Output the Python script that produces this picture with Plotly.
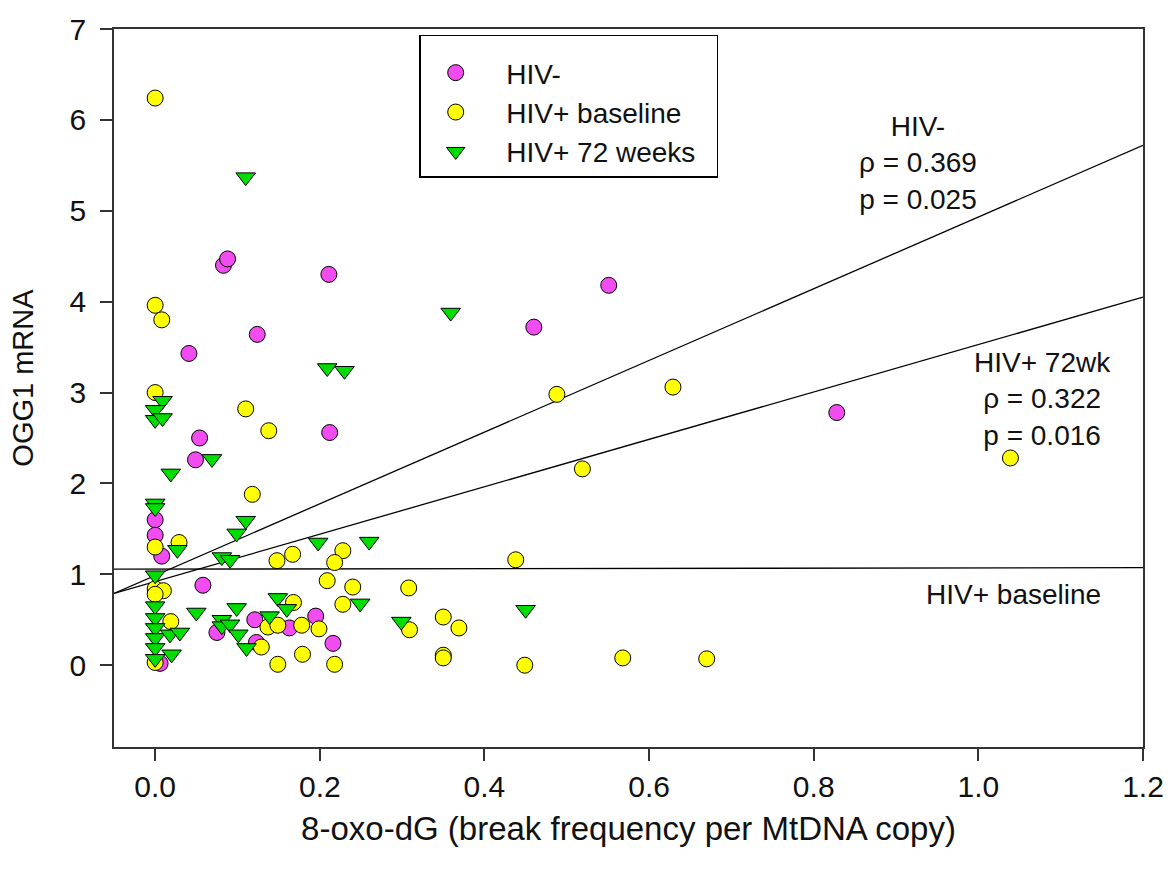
import plotly.graph_objects as go

# ---- data -----------------------------------------------------------------
hiv_neg_x = [0.083, 0.088, 0.211, 0.124, 0.041, 0.212, 0.054, 0.049, 0.0, 0.0,
             0.008, 0.058, 0.075, 0.121, 0.123, 0.163, 0.195, 0.216, 0.006,
             0.551, 0.460, 0.828]
hiv_neg_y = [4.40, 4.47, 4.30, 3.64, 3.43, 2.56, 2.50, 2.26, 1.60, 1.43,
             1.20, 0.88, 0.36, 0.50, 0.25, 0.41, 0.54, 0.24, 0.02,
             4.18, 3.72, 2.78]

hiv_base_x = [0.0, 0.0, 0.008, 0.0, 0.110, 0.138, 0.118, 0.029, 0.0, 0.148,
              0.167, 0.228, 0.218, 0.209, 0.240, 0.308, 0.0, 0.010, 0.0, 0.168,
              0.228, 0.019, 0.137, 0.149, 0.178, 0.199, 0.129, 0.149, 0.179,
              0.218, 0.309, 0.350, 0.369, 0.350, 0.350, 0.0, 0.438, 0.449,
              0.568, 0.670, 0.488, 0.629, 0.519, 1.039]
hiv_base_y = [6.24, 3.96, 3.80, 3.00, 2.82, 2.58, 1.88, 1.35, 1.30, 1.15,
              1.22, 1.26, 1.13, 0.93, 0.86, 0.85, 0.84, 0.82, 0.78, 0.69,
              0.67, 0.48, 0.42, 0.44, 0.44, 0.40, 0.20, 0.01, 0.12,
              0.01, 0.39, 0.53, 0.41, 0.11, 0.08, 0.03, 1.16, 0.00,
              0.08, 0.07, 2.98, 3.06, 2.16, 2.28]

hiv_72_x = [0.110, 0.359, 0.209, 0.230, 0.009, 0.0, 0.0, 0.009, 0.069, 0.019,
            0.0, 0.0, 0.110, 0.099, 0.027, 0.081, 0.091, 0.198, 0.260, 0.0,
            0.0, 0.0, 0.0, 0.0, 0.0, 0.0, 0.018, 0.030, 0.020, 0.050,
            0.081, 0.081, 0.099, 0.091, 0.101, 0.111, 0.139, 0.149, 0.160,
            0.249, 0.299, 0.450]
hiv_72_y = [5.37, 3.88, 3.27, 3.24, 2.91, 2.81, 2.70, 2.72, 2.27, 2.11,
            1.78, 1.73, 1.59, 1.45, 1.27, 1.19, 1.16, 1.35, 1.36, 0.99,
            0.65, 0.52, 0.41, 0.30, 0.19, 0.07, 0.34, 0.36, 0.12, 0.58,
            0.50, 0.43, 0.63, 0.45, 0.34, 0.19, 0.54, 0.74, 0.62,
            0.68, 0.48, 0.61]

series_names = ["HIV-", "HIV+ baseline", "HIV+ 72 weeks"]

# fitted regression lines (intercept, slope) over the full x range
fit_x = [-0.05, 1.2]
fit_neg = (0.987, 3.944)
fit_72 = (0.920, 2.608)
fit_base = (1.057, 0.013)

FONT = "Liberation Sans, Arial, sans-serif"
MAGENTA = "#F04CF0"
YELLOW = "#FFFF00"
GREEN = "#00DD00"
NB = "\u00a0"

fig = go.Figure()

for b0, b1 in (fit_neg, fit_72, fit_base):
    fig.add_trace(go.Scatter(
        x=fit_x, y=[b0 + b1 * v for v in fit_x], mode="lines",
        line=dict(color="black", width=1.3), showlegend=False, hoverinfo="skip"))

marker_line = dict(color="black", width=1)
fig.add_trace(go.Scatter(
    x=hiv_neg_x, y=hiv_neg_y, mode="markers", name=NB * 2 + series_names[0],
    marker=dict(symbol="circle", size=16, color=MAGENTA, line=marker_line)))
fig.add_trace(go.Scatter(
    x=hiv_base_x, y=hiv_base_y, mode="markers", name=NB * 2 + series_names[1],
    marker=dict(symbol="circle", size=16, color=YELLOW, line=marker_line)))
fig.add_trace(go.Scatter(
    x=hiv_72_x, y=hiv_72_y, mode="markers",
    name=NB * 2 + series_names[2] + NB * 2,
    marker=dict(symbol="triangle-down", size=17, color=GREEN, line=marker_line)))

ann_font = dict(family=FONT, size=28, color="#111111")
fig.add_annotation(x=0.927, y=5.53, text="HIV-<br>\u03c1 = 0.369<br>p = 0.025",
                   showarrow=False, font=ann_font, align="center")
fig.add_annotation(x=1.078, y=2.93, text="HIV+ 72wk<br>\u03c1 = 0.322<br>p = 0.016",
                   showarrow=False, font=ann_font, align="center")
fig.add_annotation(x=1.043, y=0.78, text="HIV+ baseline",
                   showarrow=False, font=ann_font, align="center")

# y-axis title placed as a rotated annotation
fig.add_annotation(xref="paper", yref="paper", x=-0.088, y=0.515,
                   xanchor="center", yanchor="middle",
                   text="OGG1 mRNA", textangle=-90, showarrow=False,
                   font=dict(family=FONT, size=29, color="#111111"))

axis_common = dict(
    showgrid=False, zeroline=False, showline=True, linecolor="#333333",
    linewidth=1.6, mirror=True, ticks="outside", ticklen=12, tickwidth=1.5,
    tickcolor="#333333", tickfont=dict(family=FONT, size=30, color="#111111"),
)

fig.update_xaxes(
    range=[-0.05, 1.2], tickvals=[0.0, 0.2, 0.4, 0.6, 0.8, 1.0, 1.2],
    tickformat=".1f",
    title=dict(text="8-oxo-dG (break frequency per MtDNA copy)",
               font=dict(family=FONT, size=33, color="#111111"), standoff=15),
    **axis_common)
fig.update_yaxes(
    range=[-0.9, 7], tickvals=[0, 1, 2, 3, 4, 5, 6, 7],
    ticklabelstandoff=8,
    **axis_common)

fig.update_layout(
    width=1176, height=871,
    margin=dict(l=114, r=28, t=22, b=124),
    paper_bgcolor="white", plot_bgcolor="white",
    legend=dict(x=0.2966, y=0.992, xanchor="left", yanchor="top",
                bordercolor="black", borderwidth=1.5, bgcolor="white",
                itemwidth=60,
                title=dict(text=NB, font=dict(size=9)),
                font=dict(family=FONT, size=28, color="#111111"),
                tracegroupgap=0),
)

fig.write_html("out.html")
